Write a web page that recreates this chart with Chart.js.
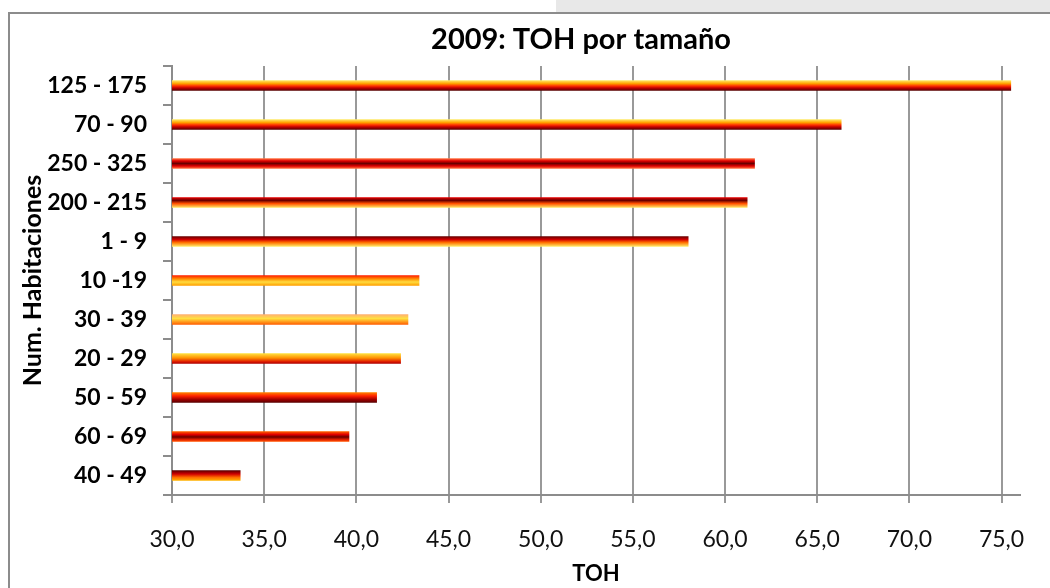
<!DOCTYPE html>
<html>
<head>
<meta charset="utf-8">
<script src="https://cdn.jsdelivr.net/npm/chart.js@4"></script>
<style>
  html, body { margin: 0; padding: 0; background: #fff; }
  #wrap { width: 1050px; height: 588px; position: relative; }
</style>
</head>
<body>
<div id="wrap"><canvas id="tohChart" width="1050" height="588"></canvas></div>
<script>
const categories = ["125 - 175", "70 - 90", "250 - 325", "200 - 215", "1 - 9", "10 -19",
                    "30 - 39", "20 - 29", "50 - 59", "60 - 69", "40 - 49"]
const tohValues = [75.5, 66.3, 61.6, 61.2, 58.0, 43.4, 42.8, 42.4, 41.1, 39.6, 33.7]
const xTicks = [30, 35, 40, 45, 50, 55, 60, 65, 70, 75]

// stripe gradients, top -> bottom, one per bar
const stripes = [
    [[0, "#ffe866"], [0.3, "#ffa200"], [0.55, "#ff3000"], [0.75, "#c00000"], [1, "#5a0000"]],
    [[0, "#ffe866"], [0.3, "#ffa200"], [0.55, "#ff3000"], [0.75, "#c00000"], [1, "#5a0000"]],
    [[0, "#ff7040"], [0.25, "#e00000"], [0.5, "#6a0000"], [0.75, "#e00000"], [1, "#ff7040"]],
    [[0, "#e00000"], [0.3, "#6a0000"], [0.6, "#ff5000"], [1, "#ffe060"]],
    [[0, "#6a0000"], [0.3, "#d00000"], [0.6, "#ff7000"], [1, "#ffe866"]],
    [[0, "#ff2000"], [0.35, "#ff9000"], [0.65, "#ffdc40"], [1, "#ffa000"]],
    [[0, "#ffb070"], [0.4, "#ffe040"], [0.7, "#ffa020"], [1, "#ff6000"]],
    [[0, "#ffe040"], [0.45, "#ff9000"], [0.8, "#e02000"], [1, "#b00000"]],
    [[0, "#ff8000"], [0.35, "#ff2000"], [0.7, "#a00000"], [1, "#5a0000"]],
    [[0, "#ff6000"], [0.3, "#e00000"], [0.55, "#6a0000"], [0.8, "#e02000"], [1, "#ff5000"]],
    [[0, "#5a0000"], [0.35, "#d00000"], [0.7, "#ff7000"], [1, "#ffb000"]]
]

const BAR_H = 10
const FONT = "Lato, 'Open Sans', sans-serif"

const barFill = (ctx) => {
    if (ctx.type !== "data") return "#ff4000"
    const chart = ctx.chart
    const yScale = chart.scales.y
    if (!chart.chartArea || !yScale) return "#ff4000"
    const yc = yScale.getPixelForValue(ctx.dataIndex)
    const g = chart.ctx.createLinearGradient(0, yc - BAR_H / 2, 0, yc + BAR_H / 2)
    stripes[ctx.dataIndex].forEach(([s, c]) => g.addColorStop(s, c))
    return g
}

/**
 * Frame, grey strip at top and the chart title
 */
const framePlugin = {
    id: "frame",
    beforeDraw(chart) {
        const c = chart.ctx
        c.save()
        c.fillStyle = "#fff"
        c.fillRect(0, 0, chart.width, chart.height)
        c.fillStyle = "#e8e8e8"
        c.fillRect(556, 0, 494, 12)
        c.strokeStyle = "#8c8c8c"
        c.lineWidth = 2
        c.beginPath()
        c.moveTo(9, chart.height)
        c.lineTo(9, 13)
        c.lineTo(chart.width, 13)
        c.stroke()
        c.restore()
    },
    afterDraw(chart) {
        const c = chart.ctx
        c.save()
        c.font = "bold 29px " + FONT
        c.fillStyle = "#000"
        c.textAlign = "center"
        c.textBaseline = "middle"
        c.fillText("2009: TOH por tamaño", 581, 40)
        c.restore()
    }
}

new Chart(document.getElementById("tohChart"), {
    type: "bar",
    data: {
        labels: categories,
        datasets: [{
            data: tohValues,
            backgroundColor: barFill,
            borderWidth: 0,
            barThickness: BAR_H
        }]
    },
    plugins: [framePlugin],
    options: {
        indexAxis: "y",
        responsive: false,
        animation: false,
        layout: { padding: { top: 66, right: 30, left: 0, bottom: 0 } },
        plugins: {
            legend: { display: false },
            title: { display: false },
            tooltip: { enabled: false }
        },
        scales: {
            x: {
                min: 30,
                max: 76,
                afterFit: (scale) => { scale.height = 93 },
                afterBuildTicks: (scale) => {
                    scale.ticks = xTicks.map(v => ({ value: v }))
                },
                ticks: {
                    padding: 23,
                    color: "#111",
                    font: { family: FONT, size: 23 },
                    callback: (v) => Number(v).toFixed(1).replace(".", ",")
                },
                grid: {
                    color: "#999",
                    lineWidth: 2,
                    tickLength: 8
                },
                border: { color: "#8c8c8c", width: 2 },
                title: {
                    display: true,
                    text: "TOH",
                    color: "#000",
                    font: { family: FONT, size: 22, weight: "bold" },
                    padding: { top: 0, bottom: 1 }
                }
            },
            y: {
                afterFit: (scale) => { scale.width = 172 },
                ticks: {
                    padding: 16,
                    color: "#000",
                    font: { family: FONT, size: 23, weight: "bold" }
                },
                grid: {
                    drawOnChartArea: false,
                    color: "#8c8c8c",
                    lineWidth: 2,
                    tickLength: 9
                },
                border: { color: "#8c8c8c", width: 2 },
                title: {
                    display: true,
                    text: "Num. Habitaciones",
                    color: "#000",
                    font: { family: FONT, size: 25, weight: "bold" },
                    padding: { top: 18, bottom: 0 }
                }
            }
        }
    }
})
</script>
</body>
</html>
